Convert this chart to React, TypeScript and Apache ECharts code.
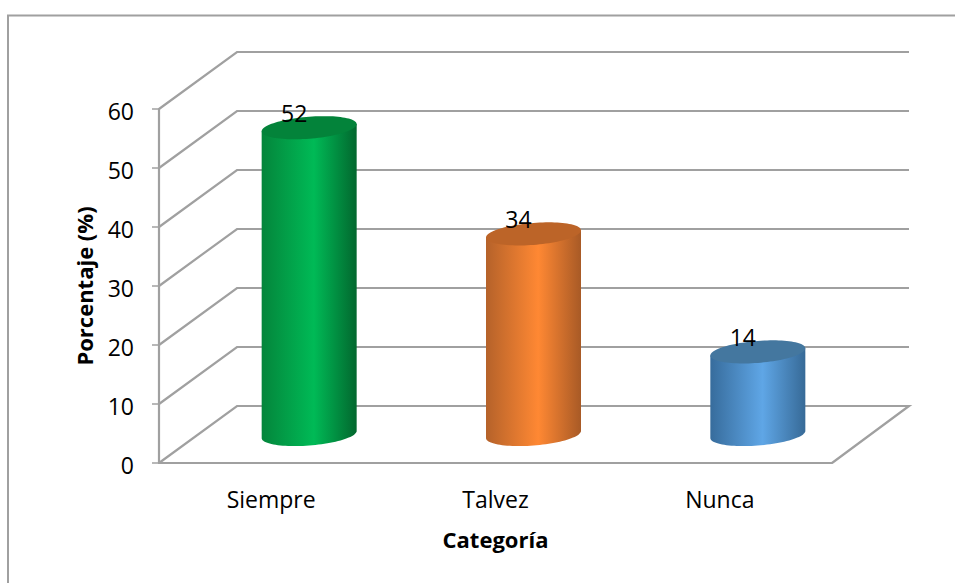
import React, { useEffect, useRef } from "react";
import * as echarts from "echarts";

const categories = ["Siempre", "Talvez", "Nunca"];
const values = [52, 34, 14];
const yTicks = [0, 10, 20, 30, 40, 50, 60];
const palettes = [
  { edgeL: "#04853B", mid: "#00BA56", edgeR: "#02672E", top: "#03833A" },
  { edgeL: "#B5622A", mid: "#FF8833", edgeR: "#A85A26", top: "#BC6428" },
  { edgeL: "#376C9C", mid: "#5FA6E6", edgeR: "#376A97", top: "#44779F" },
];

const DEPTH_X = 78;
const DEPTH_Y = 57;
const BAR_SHIFT_X = 38;
const GRID = "#A0A0A0";
const FONT = "'Open Sans'";
const RX = 47.5;
const RY = 11;
const TILT = 3.6;

function ellipsePoint(cx: number, cy: number, t: number) {
  return [cx + RX * Math.cos(t), cy + RY * Math.sin(t) - TILT * Math.cos(t)];
}

function renderGrid(params: any, api: any) {
  const cs = params.coordSys;
  const v = api.value(1);
  const y = api.coord([0, v])[1];
  const left = cs.x;
  const right = cs.x + cs.width;
  const pts = [
    [left, y],
    [left + DEPTH_X, y - DEPTH_Y],
    [right + DEPTH_X - 1, y - DEPTH_Y],
  ];
  if (v === 0) pts.push([right, y]);
  return {
    type: "polyline",
    shape: { points: pts },
    style: { stroke: GRID, lineWidth: 2.2, fill: "none" },
    silent: true,
  };
}

function renderBar(params: any, api: any) {
  const i = api.value(0);
  const v = api.value(1);
  const p = palettes[i];
  const [fx, fy] = api.coord([i, v]);
  const base = api.coord([i, 0])[1];
  const cx = fx + BAR_SHIFT_X;
  const cyTop = fy - DEPTH_Y / 2;
  const cyBase = base - DEPTH_Y / 2;
  const N = 48;
  const lower: number[][] = [];
  for (let k = 0; k <= N; k++) lower.push(ellipsePoint(cx, cyBase, Math.PI * (k / N)));
  const bodyPts = [ellipsePoint(cx, cyTop, 0), ...lower, ellipsePoint(cx, cyTop, Math.PI)];
  const topPts: number[][] = [];
  for (let k = 0; k < 96; k++) topPts.push(ellipsePoint(cx, cyTop, (2 * Math.PI * k) / 96));
  return {
    type: "group",
    children: [
      {
        type: "polygon",
        shape: { points: bodyPts },
        style: {
          fill: new echarts.graphic.LinearGradient(0, 0, 1, 0, [
            { offset: 0, color: p.edgeL },
            { offset: 0.55, color: p.mid },
            { offset: 1, color: p.edgeR },
          ]),
        },
      },
      {
        type: "polygon",
        shape: { points: topPts },
        style: { fill: p.top },
      },
      {
        type: "text",
        x: cx - 15,
        y: cyTop - 15,
        style: {
          text: String(v),
          fill: "#000",
          font: `23px ${FONT}`,
          align: "center",
          verticalAlign: "middle",
        },
      },
    ],
  };
}

export default function App() {
  const ref = useRef<HTMLDivElement>(null);
  useEffect(() => {
    const chart = echarts.init(ref.current!, undefined, { renderer: "svg" });
    chart.setOption({
      animation: false,
      backgroundColor: "#fff",
      grid: { left: 159, right: 123, top: 109, bottom: 120 },
      graphic: [
        {
          type: "polyline",
          shape: { points: [[8, 583], [8, 15.5], [955, 15.5]] },
          style: { stroke: "#A0A0A0", lineWidth: 2, fill: "none" },
          silent: true,
        },
      ],
      xAxis: {
        type: "category",
        data: categories,
        name: "Categoría",
        nameLocation: "middle",
        nameGap: 65,
        nameTextStyle: { fontFamily: FONT, fontWeight: "bold", fontSize: 22, color: "#000" },
        axisLine: { lineStyle: { color: GRID, width: 2.2 } },
        axisTick: { show: false },
        axisLabel: { fontFamily: FONT, fontSize: 23, color: "#000", margin: 24 },
      },
      yAxis: {
        type: "value",
        min: 0,
        max: 60,
        interval: 10,
        name: "Porcentaje (%)",
        nameLocation: "middle",
        nameGap: 64,
        nameTextStyle: { fontFamily: FONT, fontWeight: "bold", fontSize: 22, color: "#000" },
        axisLine: { show: true, lineStyle: { color: GRID, width: 2.2 } },
        axisTick: { show: true, length: 7, lineStyle: { color: GRID, width: 1.5 } },
        axisLabel: {
          fontFamily: FONT,
          fontSize: 23,
          color: "#000",
          margin: 25,
          verticalAlign: "top",
          lineHeight: 4,
        },
        splitLine: { show: false },
      },
      series: [
        {
          type: "custom",
          coordinateSystem: "cartesian2d",
          renderItem: renderGrid,
          data: yTicks.map((t) => [0, t]),
          encode: { x: 0, y: 1 },
          z: 1,
          silent: true,
        },
        {
          type: "custom",
          coordinateSystem: "cartesian2d",
          renderItem: renderBar,
          data: values.map((v, i) => [i, v]),
          encode: { x: 0, y: 1 },
          z: 3,
          silent: true,
        },
      ],
    });
    return () => chart.dispose();
  }, []);
  return (
    <div
      ref={ref}
      style={{ position: "fixed", left: 0, top: 0, width: 955, height: 583 }}
    />
  );
}
